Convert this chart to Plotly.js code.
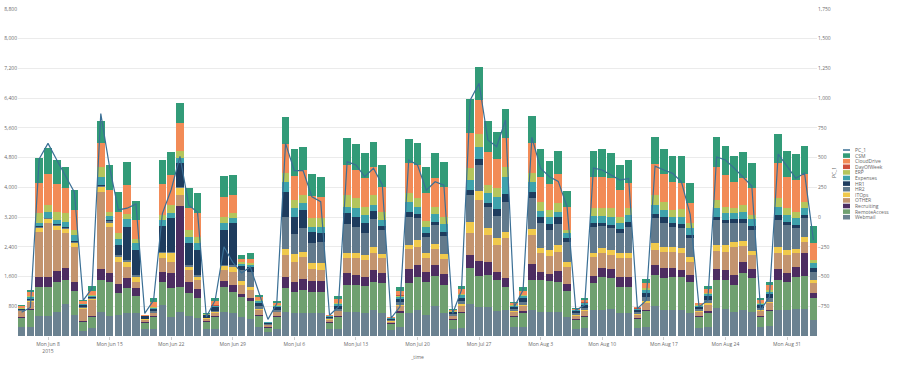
<!DOCTYPE html>
<html><head><meta charset="utf-8">
<script src="https://cdn.plot.ly/plotly-3.0.1.min.js"></script>
<style>html,body{margin:0;padding:0;background:#fff}#chart{width:902px;height:375px}</style>
</head><body><div id="chart"></div>
<script>
const days = ['2015-06-05','2015-06-06','2015-06-07','2015-06-08','2015-06-09','2015-06-10','2015-06-11','2015-06-12','2015-06-13','2015-06-14',
'2015-06-15','2015-06-16','2015-06-17','2015-06-18','2015-06-19','2015-06-20','2015-06-21','2015-06-22','2015-06-23','2015-06-24',
'2015-06-25','2015-06-26','2015-06-27','2015-06-28','2015-06-29','2015-06-30','2015-07-01','2015-07-02','2015-07-03','2015-07-04',
'2015-07-05','2015-07-06','2015-07-07','2015-07-08','2015-07-09','2015-07-10','2015-07-11','2015-07-12','2015-07-13','2015-07-14',
'2015-07-15','2015-07-16','2015-07-17','2015-07-18','2015-07-19','2015-07-20','2015-07-21','2015-07-22','2015-07-23','2015-07-24',
'2015-07-25','2015-07-26','2015-07-27','2015-07-28','2015-07-29','2015-07-30','2015-07-31','2015-08-01','2015-08-02','2015-08-03',
'2015-08-04','2015-08-05','2015-08-06','2015-08-07','2015-08-08','2015-08-09','2015-08-10','2015-08-11','2015-08-12','2015-08-13',
'2015-08-14','2015-08-15','2015-08-16','2015-08-17','2015-08-18','2015-08-19','2015-08-20','2015-08-21','2015-08-22','2015-08-23',
'2015-08-24','2015-08-25','2015-08-26','2015-08-27','2015-08-28','2015-08-29','2015-08-30','2015-08-31','2015-09-01','2015-09-02',
'2015-09-03'];

const webmail = [250,250,540,540,654,861,565,143,206,654, 538,565,610,610,180,180,834,520,654,538, 475,200,200,654,610,500,450,230,100,200,
654,628,610,628,610,180,200,654,654,610, 700,610,170,250,610,700,565,807,610,200, 220,861,771,771,681,700,230,250,700,654,
640,654,520,200,220,700,700,720,610,620, 210,250,807,700,700,700,610,220,250,745, 720,654,700,654,230,260,700,700,718,718, 430];
const remoteAccess = [230,450,770,770,807,645,645,242,314,852, 923,583,673,466,180,322,627,763,656,610, 538,180,300,656,583,560,500,300,120,300,
629,565,627,565,583,170,320,718,718,735, 761,807,150,380,824,878,896,807,762,220, 400,959,843,870,825,627,270,370,806,852,
830,807,699,230,300,734,895,830,717,700, 240,420,834,850,895,880,851,280,380,761, 786,717,1003,896,290,400,806,761,877,896, 583];
const recruiting = [30,30,285,268,288,314,251,30,30,288, 225,251,269,207,20,30,269,420,2187,313, 242,20,30,178,179,60,60,40,15,25,
295,268,288,286,286,20,30,331,269,251, 314,287,20,35,360,332,269,296,296,25, 35,359,412,358,224,225,30,40,431,224,
200,296,180,25,30,180,225,245,268,275, 25,40,269,270,225,200,180,30,40,288, 268,270,296,243,30,40,288,224,270,627, 135];
const other = [150,190,1211,1454,1102,960,942,313,418,2088, 1254,600,312,178,55,80,360,296,296,314, 251,60,100,287,358,250,220,130,50,110,
601,538,609,315,296,60,110,387,449,449, 449,386,50,150,538,493,360,422,395,80, 160,601,1632,718,718,1076,110,150,780,494,
485,511,465,90,120,520,404,385,493,493, 100,190,403,430,448,450,358,110,170,501, 494,762,421,385,120,180,430,494,358,296, 269];
const itops = [20,30,91,107,109,100,107,30,25,118, 108,135,135,134,15,20,134,225,180,90, 90,15,20,108,134,100,100,40,10,20,
153,207,135,161,180,15,25,151,134,134, 179,117,15,30,116,179,134,143,143,20, 40,295,251,180,180,178,25,35,150,135,
160,179,135,20,25,108,135,135,134,134, 20,40,180,150,135,135,135,25,35,152, 179,134,143,116,25,40,161,134,108,116, 90];
const hr2 = [20,30,30,30,30,30,30,30,30,40, 40,40,40,40,20,30,40,40,40,40, 40,20,30,40,40,300,400,60,20,40,
877,538,628,539,582,30,50,772,716,601, 736,644,25,70,761,584,431,511,484,40, 80,718,691,582,600,807,50,80,837,673,
536,565,538,45,60,698,600,582,556,718, 45,110,673,650,537,540,494,50,90,673, 583,493,484,556,55,100,735,672,565,513, 223];
const hr1 = [20,20,20,20,20,20,20,40,30,30, 30,274,901,678,60,60,695,902,632,589, 677,60,90,928,1128,120,130,90,40,80,
673,465,492,312,226,40,80,287,269,252, 232,108,35,90,136,116,125,90,116,50, 100,134,153,107,180,207,70,90,178,177,
160,179,90,55,80,108,90,90,90,134, 60,120,116,150,92,115,90,70,100,90, 90,108,90,108,80,110,134,90,90,90, 90];
const expenses = [20,40,85,156,110,147,157,20,25,215, 107,155,200,180,10,30,160,150,140,180, 180,15,30,180,134,50,60,40,10,30,
269,225,180,135,180,15,40,180,224,224, 152,161,12,50,268,197,161,206,206,20, 60,269,339,252,322,465,30,50,250,160,
200,152,134,25,40,180,180,224,161,180, 25,70,242,200,177,195,180,30,60,224, 179,160,206,180,35,65,225,180,180,180, 134];
const erp = [15,30,268,179,225,240,135,20,20,252, 120,160,150,120,5,20,150,208,200,180, 180,10,20,180,134,40,40,30,5,20,
226,224,224,225,222,10,30,313,270,224, 270,224,8,30,242,225,161,197,197,15, 40,314,342,224,243,269,20,30,245,244,
180,226,90,15,25,206,205,224,180,180, 15,40,269,200,180,195,134,20,35,224, 179,135,180,116,25,40,225,180,180,180, 90];
const dayOfWeek = [5,6,0,1,2,3,4,5,6,0, 1,2,3,4,5,6,0,1,2,3, 4,5,6,0,1,2,3,4,5,6,
0,1,2,3,4,5,6,0,1,2, 3,4,5,6,0,1,2,3,4,5, 6,0,1,2,3,4,5,6,0,1,
2,3,4,5,6,0,1,2,3,4, 5,6,0,1,2,3,4,5,6,0, 1,2,3,4,5,6,0,1,2,3, 4];
const cloudDrive = [45,120,824,834,744,655,537,60,100,646, 582,582,772,507,10,130,820,807,737,580, 627,20,120,537,493,100,120,80,10,60,
788,646,672,600,565,15,110,807,762,762, 744,673,10,130,807,896,736,763,808,30, 120,942,914,896,780,764,55,120,806,672,
698,789,628,25,70,851,851,806,718,673, 30,140,834,750,762,697,554,40,110,896, 853,718,719,719,75,120,941,850,851,742, 450];
const csm = [30,50,656,691,645,565,538,40,147,607, 673,537,627,512,10,111,645,627,554,539, 538,10,73,556,538,100,144,63,5,38,
718,718,611,592,539,10,81,718,700,672, 690,583,7,95,629,583,699,689,672,18, 72,914,896,834,743,780,33,95,735,737,
627,627,430,15,43,700,737,690,673,627, 18,105,718,672,691,735,521,21,75,791, 780,691,716,689,48,79,789,700,699,753, 456];
const pc1 = [-800,-760,490,620,480,340,210,-700,-600,870, 420,60,75,110,-810,-700,30,230,510,100, 40,-840,-700,-250,-380,-470,-420,-640,-860,-730,
620,390,390,170,130,-825,-755,466,438,340, 410,270,-850,-755,480,438,227,297,269,-811, -614,985,1125,648,592,816,-755,-614,671,410,
340,300,87,-783,-740,412,396,354,311,325, -770,-699,429,396,368,297,20,-755,-699,505, 480,412,340,261,-783,-671,530,423,326,368, -194];

const seriesNames = ['Webmail','RemoteAccess','Recruiting','OTHER','ITOps','HR2','HR1','Expenses','ERP','DayOfWeek','CloudDrive','CSM'];
const seriesValues = [webmail, remoteAccess, recruiting, other, itops, hr2, hr1, expenses, erp, dayOfWeek, cloudDrive, csm];
const seriesColors = ['#6b8291','#6fa070','#4d2d61','#c3946f','#f0c94c','#627a8c','#1e3c5e','#3ea2ac','#b4c55c','#cf4f3c','#f28b57','#329b78'];
const lineName = 'PC_1';
const lineColor = '#3a6f95';

const leftTicks = [800,1600,2400,3200,4000,4800,5600,6400,7200,8000,8800];
const rightTicks = [-750,-500,-250,0,250,500,750,1000,1250,1500,1750];
const xTickVals = ['2015-06-08','2015-06-15','2015-06-22','2015-06-29','2015-07-06','2015-07-13','2015-07-20','2015-07-27','2015-08-03','2015-08-10','2015-08-17','2015-08-24','2015-08-31'];
const xTickText = ['Mon Jun 8<br>2015','Mon Jun 15','Mon Jun 22','Mon Jun 29','Mon Jul 6','Mon Jul 13','Mon Jul 20','Mon Jul 27','Mon Aug 3','Mon Aug 10','Mon Aug 17','Mon Aug 24','Mon Aug 31'];

const traces = seriesNames.map((n,i)=>({
  type:'bar', name:n, x:days, y:seriesValues[i],
  marker:{color:seriesColors[i], line:{width:0}}, hoverinfo:'skip'
}));
traces.push({type:'scatter', mode:'lines', name:lineName, x:days, y:pc1, yaxis:'y2',
  line:{color:lineColor, width:1.2}, hoverinfo:'skip'});

// custom compact legend (plot area: x 18..817 px, y 9..336 px)
const PL=18, PW=799, PB=336, PH=327;
const px2x = p => (p-PL)/PW;
const px2y = p => (PB-p)/PH;
const legendNames = [lineName].concat(seriesNames.slice().reverse());
const legendColors = [lineColor].concat(seriesColors.slice().reverse());
const shapes = [], annotations = [];
legendNames.forEach((n,i)=>{
  const yc = 150 + 5.6*i;
  if(i===0){
    shapes.push({type:'line', xref:'paper', yref:'paper', x0:px2x(843), x1:px2x(850), y0:px2y(yc), y1:px2y(yc),
      line:{color:legendColors[i], width:1.5}});
  } else {
    shapes.push({type:'rect', xref:'paper', yref:'paper', x0:px2x(843), x1:px2x(850), y0:px2y(yc+2.3), y1:px2y(yc-2.3),
      fillcolor:legendColors[i], line:{width:0}});
  }
  annotations.push({xref:'paper', yref:'paper', x:px2x(852.5), y:px2y(yc), xanchor:'left', yanchor:'middle',
    text:n, showarrow:false, font:{size:5, color:'#666'}});
});

const layout = {
  width:902, height:375,
  margin:{l:18, r:85, t:9, b:39},
  paper_bgcolor:'#ffffff', plot_bgcolor:'#ffffff',
  barmode:'stack', bargap:0.13,
  showlegend:false,
  font:{family:'Open Sans, sans-serif', size:5, color:'#6b6b6b'},
  xaxis:{type:'date', range:['2015-06-04 14:10','2015-09-03 09:50'],
    tickmode:'array', tickvals:xTickVals, ticktext:xTickText,
    showgrid:false, zeroline:false, showline:false,
    ticks:'outside', ticklen:3, tickcolor:'#cccccc', tickfont:{size:5, color:'#6b6b6b'},
    title:{text:'_time', font:{size:5, color:'#6b6b6b'}, standoff:2}},
  yaxis:{range:[0,8800], tickmode:'array', tickvals:leftTicks, tickformat:',d',
    showgrid:true, gridcolor:'#ebebeb', gridwidth:1, zeroline:false, showline:false, ticks:'',
    tickfont:{size:5, color:'#6b6b6b'}},
  yaxis2:{overlaying:'y', side:'right', range:[-1000,1750], tickmode:'array', tickvals:rightTicks, tickformat:',d',
    showgrid:false, zeroline:false, showline:false, ticks:'',
    tickfont:{size:5, color:'#6b6b6b'},
    title:{text:'PC_1', font:{size:5, color:'#6b6b6b'}, standoff:2}},
  shapes:shapes, annotations:annotations
};
Plotly.newPlot('chart', traces, layout, {displayModeBar:false, staticPlot:true});
</script>
</body></html>
